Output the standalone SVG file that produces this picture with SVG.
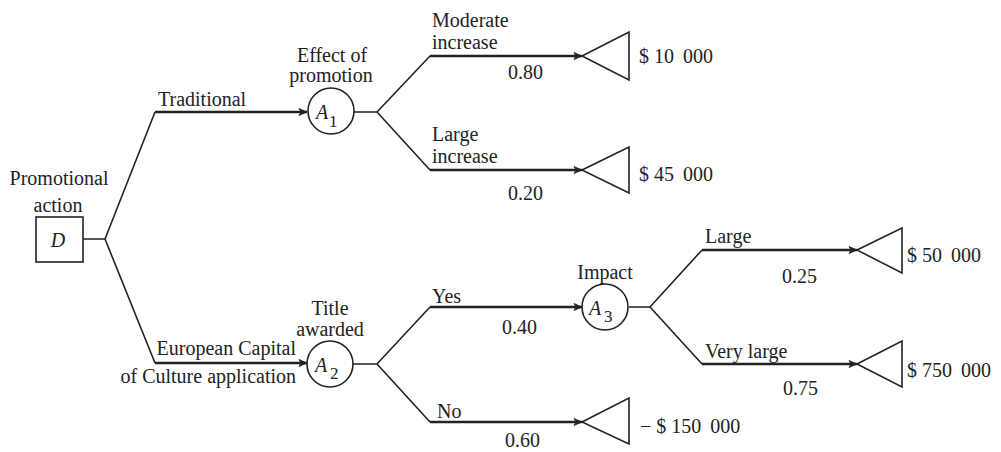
<svg xmlns="http://www.w3.org/2000/svg" width="1001" height="452" viewBox="0 0 1001 452">
<style>
text{font-family:"Liberation Serif","Times New Roman",serif;font-size:20px;fill:#222}
.c{text-anchor:middle}
.e{text-anchor:end}
.it{font-style:italic}
.sub{font-size:17px}
.thin{fill:none;stroke:#222;stroke-width:1.6}
.thick{fill:none;stroke:#222;stroke-width:2.4;marker-end:url(#arr)}
.node{fill:#fff;stroke:#222;stroke-width:1.6}
</style>
<defs>
<marker id="arr" markerUnits="userSpaceOnUse" markerWidth="10" markerHeight="10" refX="9" refY="5" orient="auto">
<path d="M1,1.5 L9,5 L1,8.5 L3,5 Z" fill="#222" stroke="#222" stroke-width="0.8"/>
</marker>
</defs>
<rect width="1001" height="452" fill="#fff"/>
<g id="connectors">
<path class="thin" d="M83,239 L105,239 L155,112"/>
<path class="thick" d="M155,112 L307,112"/>
<path class="thin" d="M105,239 L155,363"/>
<path class="thick" d="M155,363 L307,363"/>
<path class="thin" d="M354,112 L377,112 L430,56"/>
<path class="thick" d="M430,56 L582,56"/>
<path class="thin" d="M377,112 L430,170"/>
<path class="thick" d="M430,170 L582,170"/>
<path class="thin" d="M353,364 L377,364 L430,307"/>
<path class="thick" d="M430,307 L582,307"/>
<path class="thin" d="M377,364 L430,422"/>
<path class="thick" d="M430,422 L582,422"/>
<path class="thin" d="M629,307 L650,307 L702,250"/>
<path class="thick" d="M702,250 L857,250"/>
<path class="thin" d="M650,307 L702,364"/>
<path class="thick" d="M702,364 L857,364"/>
</g>
<g id="decision">
<rect class="node" x="36" y="217" width="47" height="45"/>
<text class="c it" x="58" y="247">D</text>
<text class="c" x="59" y="185">Promotional</text>
<text class="c" x="58" y="212">action</text>
</g>
<g id="edge-labels">
<text x="158" y="106">Traditional</text>
<text class="e" x="296" y="355">European Capital</text>
<text class="e" x="296" y="383">of Culture application</text>
<text x="432" y="27">Moderate</text>
<text x="432" y="49">increase</text>
<text x="508" y="79">0.80</text>
<text x="432" y="141">Large</text>
<text x="432" y="163">increase</text>
<text x="508" y="200">0.20</text>
<text x="432" y="303">Yes</text>
<text x="502" y="334">0.40</text>
<text x="437" y="418">No</text>
<text x="505" y="447">0.60</text>
<text x="705" y="243">Large</text>
<text x="782" y="283">0.25</text>
<text x="705" y="358">Very large</text>
<text x="783" y="395">0.75</text>
</g>
<g id="A1">
<circle class="node" cx="331" cy="111" r="23"/>
<text class="it" x="316" y="119">A</text>
<text class="sub" x="329" y="127">1</text>
<text class="c" x="332" y="62">Effect of</text>
<text class="c" x="331" y="82">promotion</text>
</g>
<g id="A2">
<circle class="node" cx="330" cy="364" r="23"/>
<text class="it" x="315" y="372">A</text>
<text class="sub" x="330" y="379">2</text>
<text class="c" x="330" y="315">Title</text>
<text class="c" x="330" y="336">awarded</text>
</g>
<g id="A3">
<circle class="node" cx="605" cy="307" r="23"/>
<text class="it" x="589" y="315">A</text>
<text class="sub" x="604" y="322">3</text>
<text class="c" x="605" y="279">Impact</text>
</g>
<g id="T1">
<path class="node" d="M582,56 L629,32 L629,80 Z"/>
<text x="639" y="63">$ 10 <tspan dx="4">000</tspan></text>
</g>
<g id="T2">
<path class="node" d="M582,170 L629,147 L629,193 Z"/>
<text x="639" y="181">$ 45 <tspan dx="4">000</tspan></text>
</g>
<g id="T3">
<path class="node" d="M582,422 L629,398 L629,444 Z"/>
<text x="640" y="433">− $ 150 <tspan dx="4">000</tspan></text>
</g>
<g id="T4">
<path class="node" d="M857,250 L902,228 L902,273 Z"/>
<text x="907" y="262">$ 50 <tspan dx="4">000</tspan></text>
</g>
<g id="T5">
<path class="node" d="M857,364 L902,341 L902,387 Z"/>
<text x="907" y="377">$ 750 <tspan dx="4">000</tspan></text>
</g>
</svg>
